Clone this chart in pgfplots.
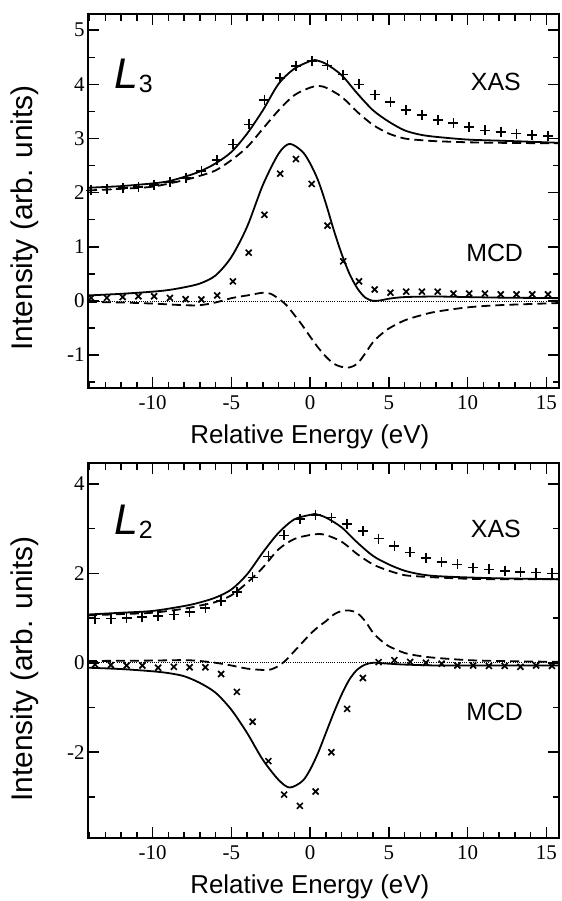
\documentclass[border=0pt]{standalone}
\usepackage{pgfplots}
\pgfplotsset{compat=1.18}
\usepackage{fontspec}
\setmainfont{Liberation Serif}
\newfontfamily\hv{Liberation Sans}

% XAS / MCD spectra, L3 (top) and L2 (bottom)
\pgfplotsset{
  spec/.style={
    scale only axis,
    width=471bp,
    xmin=-14.1, xmax=15.8,
    xtick={-10,-5,0,5,10,15},
    xticklabels={-10,-5,0,5,10,15},
    minor xtick={-14,...,15},
    xtick pos=both, ytick pos=both,
    tick align=inside,
    axis line style={line width=2bp},
    major tick style={line width=1.6bp, black},
    minor tick style={line width=1.4bp, black},
    major tick length=11bp,
    minor tick length=6.5bp,
    tick label style={font=\fontsize{21}{21}\selectfont},
    xticklabel style={anchor=base, yshift=-21bp},
    xlabel={\hv\fontsize{26}{30}\selectfont Relative Energy (eV)},
    ylabel={\hv\fontsize{30}{34}\selectfont Intensity (arb. units)},
    every axis x label/.style={at={(axis description cs:0.471,0)}, anchor=base, yshift=-55bp},
  },
  fit/.style={line width=1.8bp, smooth, black},
  calc/.style={line width=1.8bp, smooth, black, dash pattern=on 9bp off 5bp},
  pexp/.style={only marks, mark=+, mark size=5bp, mark options={line width=1.7bp}, black},
  xexp/.style={only marks, mark=x, mark size=4.2bp, mark options={line width=1.7bp}, black},
  zero/.style={black, line width=0.7bp, dash pattern=on 0.7bp off 1.5bp},
}

\begin{document}
\begin{tikzpicture}
\path[use as bounding box] (0,0) rectangle (562bp,-901bp);

% ---------------- L3 ----------------
\begin{axis}[spec,
  at={(88bp,-388bp)}, anchor=south west,
  height=374bp,
  ymin=-1.61, ymax=5.3,
  ytick={-1,0,1,2,3,4,5},
  yticklabels={-1,0,1,2,3,4,5},
  minor ytick={-1.5,-0.5,...,5},
  every axis y label/.style={at={(axis description cs:-0.134,0.455)}, rotate=90, anchor=center},
]
\addplot[zero] coordinates {(-14.1,0) (15.8,0)};
% XAS
\addplot[fit] coordinates {
 (-14.1,2.09) (-12,2.12) (-10,2.17) (-9,2.21) (-8,2.29) (-7,2.39) (-6,2.54)
 (-5,2.75) (-4,3.09) (-3,3.52) (-2,4.01) (-1,4.29) (0,4.43) (0.3,4.45) (1,4.38)
 (2,4.17) (3,3.83) (4,3.52) (5,3.31) (6,3.15) (7,3.07) (8,3.03) (10,2.98)
 (12,2.96) (14,2.94) (15.8,2.92)};
\addplot[calc] coordinates {
 (-14.1,2.04) (-12,2.07) (-10,2.11) (-8,2.23) (-7,2.31) (-6,2.41) (-5,2.60)
 (-4,2.84) (-3,3.18) (-2,3.52) (-1,3.80) (0,3.94) (0.5,3.97) (1,3.94) (2,3.77)
 (3,3.49) (4,3.25) (5,3.09) (6,3.00) (7,2.97) (8,2.95) (10,2.93) (12,2.92)
 (15.8,2.91)};
\addplot[pexp] coordinates {
 (-13.9,2.04) (-12.9,2.06) (-11.9,2.08) (-10.9,2.11) (-9.9,2.14) (-8.9,2.20)
 (-7.9,2.27) (-6.9,2.40) (-5.9,2.60) (-4.9,2.89) (-3.9,3.26) (-2.9,3.71)
 (-1.9,4.12) (-0.9,4.34) (0.1,4.43) (1.1,4.35) (2.1,4.18) (3.1,4.00)
 (4.1,3.81) (5.1,3.68) (6.1,3.53) (7.1,3.43) (8.1,3.34) (9.1,3.28)
 (10.1,3.21) (11.1,3.15) (12.1,3.12) (13.1,3.09) (14.1,3.07) (15.1,3.04)};
% MCD
\addplot[fit] coordinates {
 (-14.1,0.10) (-12,0.13) (-10,0.17) (-9,0.20) (-8,0.25) (-7,0.32) (-6,0.47)
 (-5,0.81) (-4,1.37) (-3,2.14) (-2,2.72) (-1.3,2.90) (-0.5,2.76)
 (0,2.54) (0.5,2.23) (1,1.80) (1.5,1.31) (2,0.87) (2.5,0.50) (3,0.23)
 (3.5,0.06) (4,0.0) (4.5,0.01) (5,0.04) (6,0.07) (8,0.08) (10,0.07) (12,0.06)
 (15.8,0.05)};
\addplot[calc] coordinates {
 (-14.1,-0.02) (-12,-0.03) (-10,-0.05) (-8,-0.08) (-7,-0.08) (-6,-0.03)
 (-5,0.05) (-4,0.10) (-3,0.15) (-2.5,0.13) (-2,0.04) (-1.5,-0.08) (-1,-0.26)
 (-0.5,-0.45) (0,-0.66) (0.5,-0.86) (1,-1.03) (1.5,-1.16) (2,-1.22)
 (2.5,-1.23) (3,-1.16) (3.5,-0.97) (4,-0.76) (4.5,-0.62) (5,-0.51) (6,-0.36)
 (7,-0.27) (8,-0.20) (10,-0.12) (12,-0.08) (15.8,-0.04)};
\addplot[xexp] coordinates {
 (-13.9,0.055) (-12.9,0.055) (-11.9,0.07) (-10.9,0.085) (-9.9,0.085)
 (-8.9,0.055) (-7.9,0.03) (-6.9,0.025) (-5.9,0.10) (-4.9,0.36) (-3.9,0.89)
 (-2.9,1.59) (-1.9,2.35) (-0.9,2.62) (0.1,2.16) (1.1,1.39) (2.1,0.73)
 (3.1,0.36) (4.1,0.21) (5.1,0.15) (6.1,0.17) (7.1,0.17) (8.1,0.17)
 (9.1,0.135) (10.1,0.135) (11.1,0.135) (12.1,0.12) (13.1,0.12) (14.1,0.12)
 (15.1,0.12)};
\node[anchor=base west, inner sep=0] at (axis cs:-12.4,3.93)
  {\hv\fontsize{43}{43}\selectfont\itshape L\upshape\fontsize{25}{25}\selectfont\raisebox{-4bp}{3}};
\node[anchor=west, inner sep=0] at (axis cs:10.2,4.04) {\hv\fontsize{25}{25}\selectfont XAS};
\node[anchor=west, inner sep=0] at (axis cs:9.9,0.88) {\hv\fontsize{25}{25}\selectfont MCD};
\end{axis}

% ---------------- L2 ----------------
\begin{axis}[spec,
  at={(88bp,-838bp)}, anchor=south west,
  height=375bp,
  ymin=-3.92, ymax=4.47,
  ytick={-2,0,2,4},
  yticklabels={-2,0,2,4},
  minor ytick={-3,-1,1,3},
  every axis y label/.style={at={(axis description cs:-0.134,0.451)}, rotate=90, anchor=center},
]
\addplot[zero] coordinates {(-14.1,0) (15.8,0)};
% XAS
\addplot[fit] coordinates {
 (-14.1,1.08) (-12,1.12) (-10,1.16) (-8,1.27) (-7,1.35) (-6,1.46) (-5,1.64)
 (-4,1.98) (-3,2.47) (-2,2.91) (-1,3.21) (0,3.31) (0.3,3.33) (1,3.25)
 (2,3.03) (3,2.69) (4,2.39) (5,2.20) (6,2.06) (7,1.98) (8,1.94) (10,1.91)
 (12,1.89) (15.8,1.87)};
\addplot[calc] coordinates {
 (-14.1,1.06) (-12,1.09) (-10,1.12) (-8,1.21) (-7,1.28) (-6,1.36) (-5,1.51)
 (-4,1.79) (-3,2.13) (-2,2.54) (-1,2.77) (0,2.86) (0.5,2.88) (1,2.86)
 (2,2.71) (3,2.43) (4,2.20) (5,2.06) (6,1.96) (7,1.93) (8,1.91) (10,1.88)
 (12,1.87) (15.8,1.87)};
\addplot[pexp] coordinates {
 (-13.65,0.99) (-12.65,0.99) (-11.65,1.01) (-10.65,1.03) (-9.65,1.05)
 (-8.65,1.08) (-7.65,1.14) (-6.65,1.23) (-5.65,1.38) (-4.65,1.58)
 (-3.65,1.91) (-2.65,2.38) (-1.65,2.85) (-0.65,3.21) (0.35,3.31)
 (1.35,3.25) (2.35,3.10) (3.35,2.95) (4.35,2.78) (5.35,2.62) (6.35,2.47)
 (7.35,2.35) (8.35,2.26) (9.35,2.20) (10.35,2.13) (11.35,2.09)
 (12.35,2.06) (13.35,2.03) (14.35,2.02) (15.35,2.00)};
% MCD
\addplot[fit] coordinates {
 (-14.1,-0.11) (-12,-0.14) (-10,-0.19) (-9,-0.23) (-8,-0.30) (-7,-0.45)
 (-6,-0.67) (-5,-1.05) (-4,-1.57) (-3,-2.17) (-2,-2.62) (-1.3,-2.79)
 (-0.5,-2.65) (0,-2.39) (0.5,-2.02) (1,-1.57) (1.5,-1.12)
 (2,-0.71) (2.5,-0.37) (3,-0.15) (3.5,-0.04) (4,0.0) (5,-0.02) (6,-0.04)
 (8,-0.06) (10,-0.06) (15.8,-0.06)};
\addplot[calc] coordinates {
 (-14.1,0.04) (-12,0.045) (-10,0.05) (-8,0.06) (-7,0.04) (-6,0.0) (-5,-0.06)
 (-4,-0.13) (-3,-0.16) (-2.5,-0.15) (-2,-0.07) (-1.5,0.07) (-1,0.26)
 (-0.5,0.45) (0,0.64) (0.5,0.80) (1,0.93) (1.5,1.08) (2,1.16) (2.5,1.17)
 (3,1.11) (3.5,0.93) (4,0.67) (4.5,0.50) (5,0.37) (6,0.22) (7,0.15) (8,0.11)
 (10,0.06) (12,0.04) (15.8,0.02)};
\addplot[xexp] coordinates {
 (-13.65,-0.04) (-12.65,-0.05) (-11.65,-0.06) (-10.65,-0.06) (-9.65,-0.11)
 (-8.65,-0.09) (-7.65,-0.10) (-6.65,-0.10) (-5.65,-0.25) (-4.65,-0.65)
 (-3.65,-1.32) (-2.65,-2.20) (-1.65,-2.95) (-0.65,-3.20) (0.35,-2.88)
 (1.35,-2.00) (2.35,-1.03) (3.35,-0.34) (4.35,0.015) (5.35,0.06)
 (6.35,0.02) (7.35,0.0) (8.35,-0.02) (9.35,-0.06) (10.35,-0.06)
 (11.35,-0.07) (12.35,-0.07) (13.35,-0.09) (14.35,-0.06) (15.35,-0.07)};
\node[anchor=base west, inner sep=0] at (axis cs:-12.4,2.88)
  {\hv\fontsize{43}{43}\selectfont\itshape L\upshape\fontsize{25}{25}\selectfont\raisebox{-4bp}{2}};
\node[anchor=west, inner sep=0] at (axis cs:10.2,2.99) {\hv\fontsize{25}{25}\selectfont XAS};
\node[anchor=west, inner sep=0] at (axis cs:9.9,-1.11) {\hv\fontsize{25}{25}\selectfont MCD};
\end{axis}
\end{tikzpicture}
\end{document}
